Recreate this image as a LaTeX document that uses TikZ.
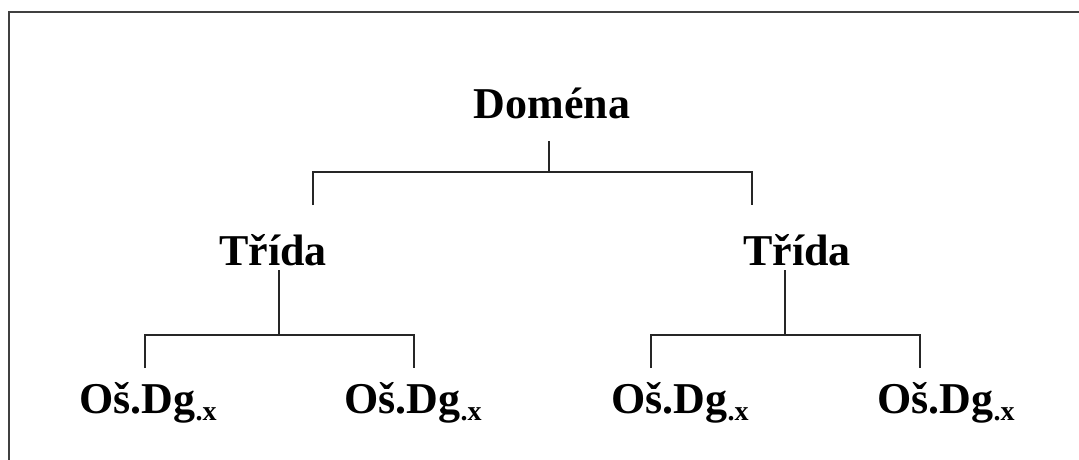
\documentclass[tikz,border=0pt]{standalone}
\usepackage{fontspec}
\setmainfont{Liberation Serif}
\newcommand{\osdg}{O\v{s}.Dg\raisebox{-7pt}{\fontsize{28}{28}\selectfont .x}}
\begin{document}
\begin{tikzpicture}[x=1pt,y=-1pt,
  label/.style={anchor=base,inner sep=0pt,font=\bfseries\fontsize{44}{44}\selectfont},
  link/.style={line width=2pt,draw=black!85},
  frame/.style={line width=2.4pt,draw=black!75}]
\useasboundingbox (0,0) rectangle (1079,459);
\fill[white] (0,0) rectangle (1079,459);
% open frame: left and top edges only
\draw[frame] (9,470) -- (9,12) -- (1090,12);

% labels
\node[label] (dom) at (552,118) {Dom\'ena};
\node[label] (trL) at (273,265) {T\v{r}\'ida};
\node[label] (trR) at (797,265) {T\v{r}\'ida};
\node[label] (o1) at (148,413) {\osdg};
\node[label] (o2) at (413,413) {\osdg};
\node[label] (o3) at (680,413) {\osdg};
\node[label] (o4) at (946,413) {\osdg};

% connector end points
\coordinate (domstem) at (549,141);
\coordinate (domjoin) at (549,172);
\coordinate (trLtop) at (313,205);
\coordinate (trRtop) at (752,205);
\coordinate (trLstem) at (279,270);
\coordinate (trLjoin) at (279,335);
\coordinate (trRstem) at (785,270);
\coordinate (trRjoin) at (785,335);
\coordinate (o1top) at (145,368);
\coordinate (o2top) at (414,368);
\coordinate (o3top) at (651,368);
\coordinate (o4top) at (920,368);

% tree connectors
\draw[link] (domstem) -- (domjoin);
\draw[link] (trLtop) |- (domjoin) -| (trRtop);
\draw[link] (trLstem) -- (trLjoin);
\draw[link] (o1top) |- (trLjoin) -| (o2top);
\draw[link] (trRstem) -- (trRjoin);
\draw[link] (o3top) |- (trRjoin) -| (o4top);
\end{tikzpicture}
\end{document}
